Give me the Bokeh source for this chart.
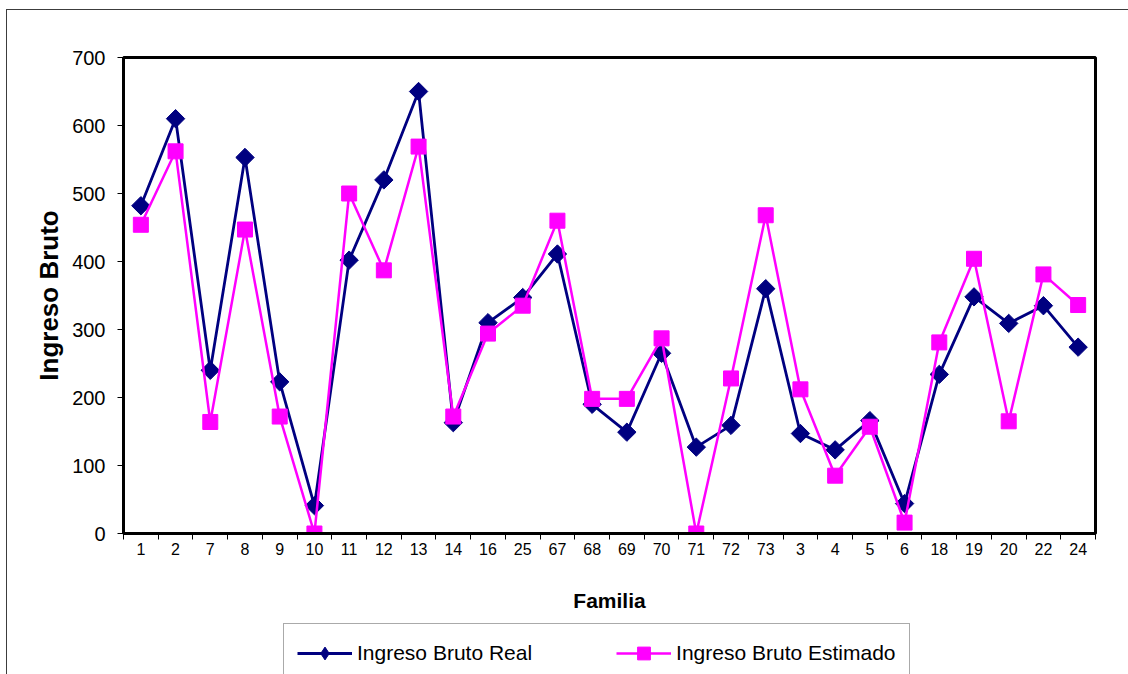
import numpy as np
from bokeh.plotting import figure
from bokeh.layouts import column
from bokeh.models import FixedTicker, Legend, LegendItem, Range1d
from bokeh.embed import file_html
from bokeh.resources import INLINE

families = ["1", "2", "7", "8", "9", "10", "11", "12", "13", "14", "16", "25", "67", "68",
            "69", "70", "71", "72", "73", "3", "4", "5", "6", "18", "19", "20", "22", "24"]
real = [482, 610, 240, 553, 223, 41, 402, 520, 650, 163, 310, 347, 411, 190,
        149, 265, 127, 159, 360, 147, 123, 166, 44, 234, 348, 309, 335, 274]
estimado = [454, 562, 164, 447, 172, 0, 500, 387, 569, 172, 294, 335, 460, 198,
            198, 287, 0, 228, 468, 212, 85, 157, 16, 281, 404, 165, 381, 336]
y_ticks = [0, 100, 200, 300, 400, 500, 600, 700]
series_names = ["Ingreso Bruto Real", "Ingreso Bruto Estimado"]

x = list(range(1, len(families) + 1))
FONT = "Liberation Sans"
NAVY = "#000080"
MAGENTA = "#FF00FF"

p = figure(width=1121, height=605, output_backend="svg", toolbar_location=None,
           x_range=Range1d(0.5, len(families) + 0.5), y_range=Range1d(0, 700),
           min_border_left=116, min_border_right=33, min_border_top=47, min_border_bottom=82)
p.grid.visible = False
p.outline_line_color = "black"
p.outline_line_width = 3
p.background_fill_color = "white"
p.border_fill_color = "white"

# x axis
xa = p.xaxis[0]
xa.ticker = FixedTicker(ticks=x, minor_ticks=[i + 0.5 for i in range(0, len(families) + 1)])
xa.major_label_overrides = {i: f for i, f in zip(x, families)}
xa.major_tick_line_color = None
xa.major_tick_out = 0
xa.major_tick_in = 0
xa.minor_tick_line_color = "black"
xa.minor_tick_out = 6
xa.minor_tick_in = 0
xa.axis_line_color = "black"
xa.axis_line_width = 3
xa.major_label_text_font = FONT
xa.major_label_text_font_size = "16px"
xa.major_label_text_color = "black"
xa.major_label_standoff = 3
xa.axis_label = "Familia"
xa.axis_label_text_font = FONT
xa.axis_label_text_font_style = "bold"
xa.axis_label_text_font_size = "21px"
xa.axis_label_text_color = "black"
xa.axis_label_standoff = 31

# y axis
ya = p.yaxis[0]
ya.ticker = FixedTicker(ticks=y_ticks)
ya.minor_tick_line_color = None
ya.major_tick_line_color = "black"
ya.major_tick_out = 6
ya.major_tick_in = 0
ya.axis_line_color = "black"
ya.axis_line_width = 3
ya.major_label_text_font = FONT
ya.major_label_text_font_size = "20px"
ya.major_label_text_color = "black"
ya.major_label_standoff = 12
ya.axis_label = "Ingreso Bruto"
ya.axis_label_text_font = FONT
ya.axis_label_text_font_style = "bold"
ya.axis_label_text_font_size = "26px"
ya.axis_label_text_color = "black"
ya.axis_label_standoff = 5

p.line(x, real, line_color=NAVY, line_width=2.8)
p.scatter(x, real, marker="square", angle=np.pi / 4, size=13, fill_color=NAVY, line_color=NAVY)
p.line(x, estimado, line_color=MAGENTA, line_width=2.5)
p.scatter(x, estimado, marker="square", size=15, fill_color=MAGENTA, line_color=MAGENTA)

# legend strip below the chart (its renderers hold one off-range point only, for the key glyphs)
p2 = figure(width=1121, height=59, output_backend="svg", toolbar_location=None,
            x_range=Range1d(0, 1), y_range=Range1d(0, 1), min_border=0)
p2.axis.visible = False
p2.grid.visible = False
p2.outline_line_color = None
p2.border_fill_color = "white"
off = [-10]
ll1 = p2.line(off, off, line_color=NAVY, line_width=2.8)
ls1 = p2.scatter(off, off, marker="diamond", size=19, fill_color=NAVY, line_color=NAVY)
ll2 = p2.line(off, off, line_color=MAGENTA, line_width=2.5)
ls2 = p2.scatter(off, off, marker="square", size=15, fill_color=MAGENTA, line_color=MAGENTA)

legend = Legend(items=[LegendItem(label=series_names[0], renderers=[ll1, ls1]),
                       LegendItem(label=series_names[1], renderers=[ll2, ls2])],
                orientation="horizontal", location=(160, -9), margin=0,
                glyph_width=55, glyph_height=32, label_standoff=5, spacing=84, padding=13,
                label_text_font=FONT, label_text_font_size="21px", label_text_color="black",
                border_line_color="#555555", border_line_width=1,
                background_fill_color="white", background_fill_alpha=1)
p2.add_layout(legend, "center")

layout = column(p, p2, spacing=0, margin=(9, 0, 0, 6),
                styles={"border-left": "1px solid #3c3c3c", "border-top": "1px solid #3c3c3c"})

open("out.html", "w").write(file_html(layout, INLINE))
